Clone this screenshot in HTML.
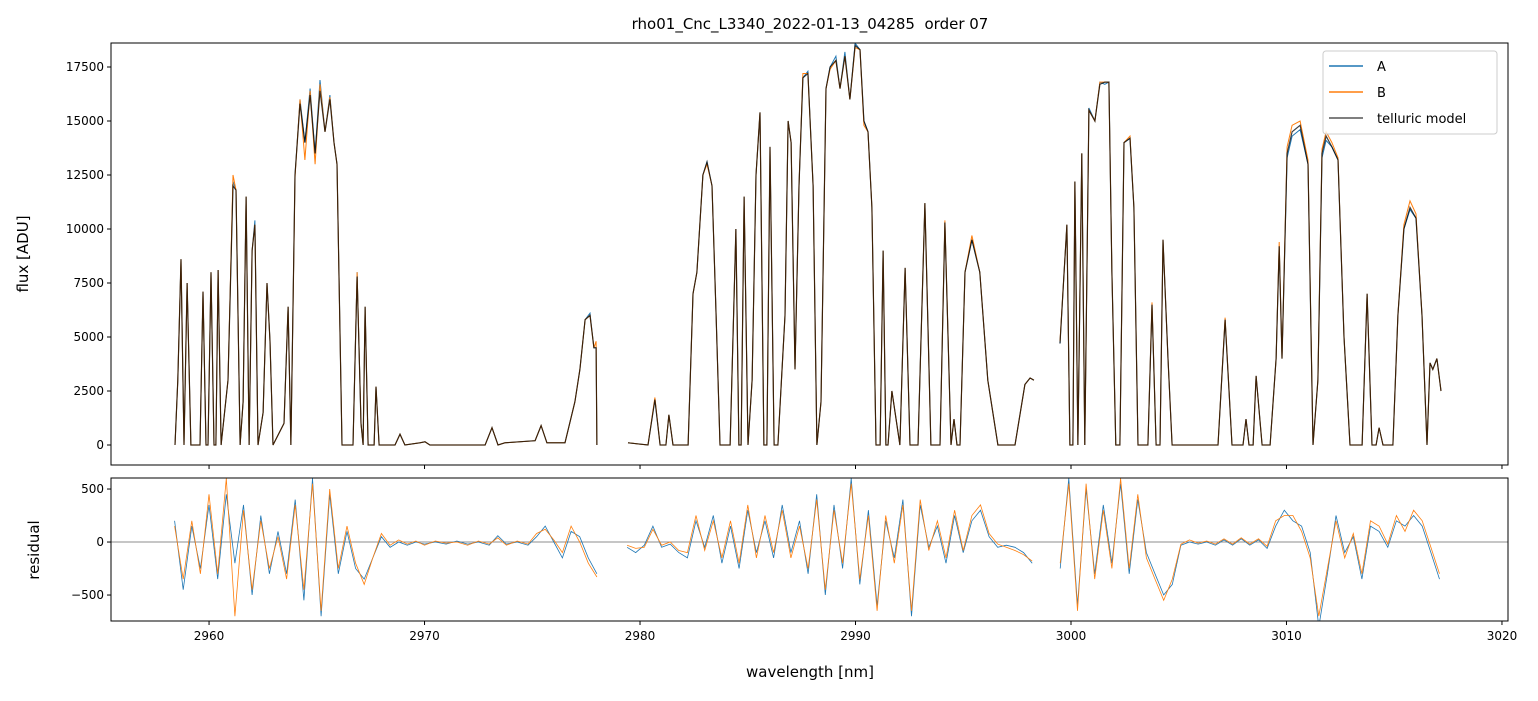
<!DOCTYPE html>
<html><head><meta charset="utf-8">
<style>
body{margin:0;background:#fff;}
svg text{font-family:"DejaVu Sans","Liberation Sans",sans-serif;fill:#000;}
</style></head>
<body>
<svg id="chart" width="1538" height="696" xmlns="http://www.w3.org/2000/svg">
<rect width="1538" height="696" fill="#fff"/>
<text x="810" y="29" font-size="15" text-anchor="middle" style="white-space:pre">rho01_Cnc_L3340_2022-01-13_04285  order 07</text>
<text transform="translate(28,254) rotate(-90)" font-size="15" text-anchor="middle">flux [ADU]</text>
<text transform="translate(39,550) rotate(-90)" font-size="15" text-anchor="middle">residual</text>
<text x="810" y="677" font-size="15" text-anchor="middle">wavelength [nm]</text>
<g id="topPanel"></g>
<g id="botPanel"></g>
<g>
<rect x="1323" y="51" width="174" height="83" rx="3" fill="#fff" fill-opacity="0.8" stroke="#ccc"/>
<line x1="1329" y1="66" x2="1363" y2="66" stroke="#1f77b4" stroke-width="1.5"/>
<text x="1377" y="71" font-size="13">A</text>
<line x1="1329" y1="92" x2="1363" y2="92" stroke="#ff7f0e" stroke-width="1.5"/>
<text x="1377" y="97" font-size="13">B</text>
<line x1="1329" y1="118" x2="1363" y2="118" stroke="#555" stroke-width="1.5"/>
<text x="1377" y="123" font-size="13">telluric model</text>
</g>
</svg>
<script>
const wl=[2958.42,2958.55,2958.70,2958.84,2958.98,2959.16,2959.58,2959.72,2959.86,2959.95,2960.09,2960.23,2960.32,2960.42,2960.56,2960.88,2961.11,2961.25,2961.44,2961.58,2961.72,2961.86,2962.0,2962.13,2962.27,2962.51,2962.69,2962.83,2962.97,2963.48,2963.67,2963.80,2963.99,2964.22,2964.45,2964.69,2964.92,2965.15,2965.38,2965.61,2965.80,2965.94,2966.17,2966.68,2966.87,2967.05,2967.15,2967.24,2967.38,2967.66,2967.75,2967.89,2968.63,2968.86,2969.09,2969.79,2970.02,2970.25,2972.81,2973.13,2973.41,2973.73,2975.13,2975.41,2975.68,2976.52,2976.98,2977.21,2977.45,2977.68,2977.86,2977.96,2978.0,null,
2979.44,2980.37,2980.69,2980.93,2981.20,2981.34,2981.53,2982.23,2982.46,2982.64,2982.92,2983.11,2983.34,2983.53,2983.71,2984.18,2984.45,2984.59,2984.69,2984.83,2985.01,2985.20,2985.38,2985.57,2985.75,2985.89,2986.03,2986.22,2986.40,2986.73,2986.87,2987.01,2987.19,2987.38,2987.56,2987.79,2988.03,2988.21,2988.40,2988.63,2988.82,2989.09,2989.28,2989.51,2989.74,2989.98,2990.21,2990.39,2990.58,2990.76,2990.95,2991.14,2991.28,2991.41,2991.51,2991.69,2992.06,2992.30,2992.53,2992.90,2993.22,2993.50,2993.92,2994.15,2994.43,2994.57,2994.71,2994.85,2995.08,2995.40,2995.77,2996.14,2996.61,2996.94,2997.40,2997.86,2998.10,2998.28,null,
2999.49,2999.68,2999.81,2999.95,3000.09,3000.18,3000.32,3000.50,3000.64,3000.83,3001.11,3001.34,3001.57,3001.76,3001.90,3002.08,3002.27,3002.46,3002.74,3002.92,3003.11,3003.57,3003.76,3003.95,3004.13,3004.27,3004.50,3004.69,3006.82,3007.15,3007.47,3007.98,3008.12,3008.26,3008.45,3008.59,3008.87,3009.24,3009.52,3009.66,3009.79,3010.03,3010.26,3010.63,3011.00,3011.23,3011.46,3011.65,3011.84,3012.11,3012.39,3012.67,3012.95,3013.51,3013.74,3013.97,3014.16,3014.30,3014.48,3014.94,3015.17,3015.45,3015.73,3016.01,3016.29,3016.52,3016.66,3016.79,3016.98,3017.17];
const model=[0,3000,8600,0,7500,0,0,7100,0,0,8000,0,0,8100,0,3000,12000,11800,0,2000,11500,0,9000,10200,0,1500,7500,4800,0,1000,6400,0,12500,15800,14000,16200,13500,16400,14500,16000,14000,13000,0,0,7800,1000,0,6400,0,0,2700,0,0,500,0,100,150,0,0,800,0,100,200,900,100,100,2000,3500,5800,6000,4500,4500,0,null,
100,0,2100,0,0,1400,0,0,7000,8000,12500,13100,12000,6000,0,0,10000,0,0,11500,0,3000,12500,15400,0,0,13800,0,0,6000,15000,14000,3500,12000,17000,17200,12000,0,2000,16500,17500,17800,16500,18000,16000,18500,18300,15000,14500,11000,0,0,9000,0,0,2500,0,8200,0,0,11200,0,0,10300,0,1200,0,0,8000,9500,8000,3000,0,0,0,2800,3100,3000,null,
4700,8000,10200,0,0,12200,0,13500,0,15500,15000,16700,16800,16800,8000,0,0,14000,14200,11000,0,0,6500,0,0,9500,4000,0,0,5800,0,0,1200,0,0,3200,0,0,4000,9200,4000,13500,14500,14800,13000,0,3000,13500,14300,13800,13200,5000,0,0,7000,0,0,800,0,0,6000,10000,11000,10500,6000,0,3800,3500,4000,2500];
const fluxA=[0,3000,8600,0,7500,0,0,7100,0,0,8000,0,0,8100,0,3000,12200,11800,0,2000,11500,0,9000,10400,0,1500,7500,4800,0,1000,6400,0,12500,16000,14000,16500,13500,16900,14500,16200,14000,13000,0,0,8000,1000,0,6400,0,0,2700,0,0,500,0,100,150,0,0,800,0,100,200,900,100,100,2000,3500,5800,6100,4500,4500,0,null,
100,0,2100,0,0,1400,0,0,7000,8000,12500,13100,12000,6000,0,0,10000,0,0,11500,0,3000,12500,15400,0,0,13800,0,0,6000,15000,14000,3500,12000,17000,17300,12000,0,2000,16500,17500,18000,16500,18200,16000,18600,18300,15000,14500,11000,0,0,9000,0,0,2500,0,8200,0,0,11200,0,0,10300,0,1200,0,0,8000,9500,8000,3000,0,0,0,2800,3100,3000,null,
4700,8000,10200,0,0,12200,0,13500,0,15600,15000,16800,16700,16800,8000,0,0,14000,14200,11000,0,0,6500,0,0,9500,4000,0,0,5800,0,0,1200,0,0,3200,0,0,4000,9200,4000,13300,14300,14600,13000,0,3000,13300,14100,13800,13200,5000,0,0,7000,0,0,800,0,0,6000,10000,10900,10500,6000,0,3800,3500,4000,2500];
const fluxB=[0,3000,8600,0,7500,0,0,7100,0,0,8000,0,0,8100,0,3000,12500,11800,0,2000,11500,0,9000,10200,0,1500,7500,4800,0,1000,6400,0,12400,16000,13200,16400,13000,16700,14500,16100,14000,13000,0,0,8000,1000,0,6400,0,0,2700,0,0,500,0,100,150,0,0,800,0,100,200,900,100,100,2000,3500,5800,6000,4500,4800,0,null,
100,0,2200,0,0,1400,0,0,7000,8000,12500,13000,12000,6000,0,0,10000,0,0,11500,0,3000,12500,15400,0,0,13800,0,0,6000,15000,14000,3500,12000,17200,17200,12000,0,2000,16500,17400,17800,16500,18000,16000,18400,18300,14800,14500,11000,0,0,9000,0,0,2500,0,8200,0,0,11200,0,0,10400,0,1200,0,0,8000,9700,8000,3000,0,0,0,2800,3100,3000,null,
4800,8000,10200,0,0,12200,0,13500,0,15500,15000,16800,16800,16800,8000,0,0,14000,14300,11000,0,0,6600,0,0,9500,4000,0,0,5900,0,0,1200,0,0,3200,0,0,4000,9400,4000,13800,14800,15000,13200,0,3000,13700,14500,14000,13300,5000,0,0,7000,0,0,800,0,0,6000,10200,11300,10700,6000,0,3800,3500,4000,2500];
const resWl=[2958.4,2958.8,2959.2,2959.6,2960.0,2960.4,2960.8,2961.2,2961.6,2962.0,2962.4,2962.8,2963.2,2963.6,2964.0,2964.4,2964.8,2965.2,2965.6,2966.0,2966.4,2966.8,2967.2,2967.6,2968.0,2968.4,2968.8,2969.2,2969.6,2970.0,2970.5,2971.0,2971.5,2972.0,2972.5,2973.0,2973.4,2973.8,2974.3,2974.8,2975.2,2975.6,2976.0,2976.4,2976.8,2977.2,2977.6,2978.0,null,
2979.4,2979.8,2980.2,2980.6,2981.0,2981.4,2981.8,2982.2,2982.6,2983.0,2983.4,2983.8,2984.2,2984.6,2985.0,2985.4,2985.8,2986.2,2986.6,2987.0,2987.4,2987.8,2988.2,2988.6,2989.0,2989.4,2989.8,2990.2,2990.6,2991.0,2991.4,2991.8,2992.2,2992.6,2993.0,2993.4,2993.8,2994.2,2994.6,2995.0,2995.4,2995.8,2996.2,2996.6,2997.0,2997.4,2997.8,2998.2,null,
2999.5,2999.9,3000.3,3000.7,3001.1,3001.5,3001.9,3002.3,3002.7,3003.1,3003.5,3003.9,3004.3,3004.7,3005.1,3005.5,3005.9,3006.3,3006.7,3007.1,3007.5,3007.9,3008.3,3008.7,3009.1,3009.5,3009.9,3010.3,3010.7,3011.1,3011.5,3011.9,3012.3,3012.7,3013.1,3013.5,3013.9,3014.3,3014.7,3015.1,3015.5,3015.9,3016.3,3016.7,3017.1];
const resA=[200,-450,150,-250,350,-350,450,-200,350,-500,250,-300,100,-300,400,-550,600,-700,450,-300,100,-250,-350,-150,50,-50,0,-30,0,-20,0,-20,10,-20,0,-30,60,-20,0,-30,50,150,0,-150,100,50,-150,-300,null,
-50,-100,-30,150,-50,-20,-100,-150,200,-50,250,-200,150,-250,300,-100,200,-150,350,-100,200,-300,450,-500,350,-250,600,-400,300,-600,200,-150,400,-700,350,-50,150,-200,250,-100,200,300,50,-50,-30,-50,-100,-200,null,
-250,600,-600,500,-300,350,-200,550,-300,400,-100,-300,-500,-400,-30,0,-20,0,-30,20,-30,30,-30,20,-60,150,300,200,150,-100,-800,-300,250,-100,50,-350,150,100,-50,200,150,250,150,-100,-350];
const resB=[150,-350,200,-300,450,-300,600,-700,300,-450,200,-250,50,-350,350,-450,550,-650,500,-250,150,-200,-400,-150,80,-30,20,-20,10,-30,10,-10,0,-30,10,-20,40,-30,10,-20,80,120,20,-100,150,0,-200,-330,null,
-30,-60,-50,120,-30,0,-80,-100,250,-80,200,-150,200,-200,350,-150,250,-100,300,-150,150,-250,400,-450,300,-200,550,-350,250,-650,250,-200,350,-650,400,-80,200,-150,300,-80,250,350,80,-20,-50,-80,-120,-180,null,
-200,550,-650,550,-350,300,-250,600,-250,450,-150,-350,-550,-350,-20,20,-10,10,-20,30,-20,40,-20,30,-40,200,250,250,100,-150,-700,-250,200,-150,80,-300,200,150,-20,250,100,300,200,-50,-300];
const xTicks=[2960,2970,2980,2990,3000,3010,3020];
const yTicks=[0,2500,5000,7500,10000,12500,15000,17500];
const rTicks=[-500,0,500];

const NS="http://www.w3.org/2000/svg";
const L=111,R=1508,T1=43,B1=465,T2=478,B2=621;
const x=w=>L+(w-2955.45)/(3020.28-2955.45)*(R-L);
const y1=v=>B1-(v-(-926))/(18611-(-926))*(B1-T1);
const y2=v=>B2-(v-(-745))/(604-(-745))*(B2-T2);
function mk(tag,attrs,parent){const e=document.createElementNS(NS,tag);for(const k in attrs)e.setAttribute(k,attrs[k]);parent.appendChild(e);return e;}
function pathD(xs,ys,fy){let d="",pen=false;for(let i=0;i<xs.length;i++){if(xs[i]===null||ys[i]===null){pen=false;continue;}d+=(pen?"L":"M")+x(xs[i]).toFixed(1)+","+fy(ys[i]).toFixed(1);pen=true;}return d;}
const topG=document.getElementById('topPanel'),botG=document.getElementById('botPanel');
const cp=mk('clipPath',{id:'c1'},topG);mk('rect',{x:L,y:T1,width:R-L,height:B1-T1},cp);
const cp2=mk('clipPath',{id:'c2'},botG);mk('rect',{x:L,y:T2,width:R-L,height:B2-T2},cp2);
const g1=mk('g',{'clip-path':'url(#c1)'},topG);
let p=mk('path',{d:pathD(wl,fluxA,y1),fill:'none',stroke:'#1f77b4','stroke-width':1},g1);


p=mk('path',{d:pathD(wl,fluxB,y1),fill:'none',stroke:'#ff7f0e','stroke-width':1},g1);


p=mk('path',{d:pathD(wl,model,y1),fill:'none',stroke:'#000','stroke-opacity':0.75,'stroke-width':1.2},g1);


const g2=mk('g',{'clip-path':'url(#c2)'},botG);
p=mk('line',{x1:L,x2:R,y1:y2(0),y2:y2(0),stroke:'#666','stroke-width':0.7},g2);


p=mk('path',{d:pathD(resWl,resA,y2),fill:'none',stroke:'#1f77b4','stroke-width':0.8},g2);


p=mk('path',{d:pathD(resWl,resB,y2),fill:'none',stroke:'#ff7f0e','stroke-width':0.8},g2);


for(const [t,b] of [[T1,B1],[T2,B2]]){
  const f=mk('rect',{x:L,y:t,width:R-L,height:b-t,fill:'none',stroke:'#000','stroke-width':1},t===T1?topG:botG);
  
  
}
for(const v of xTicks){
  const xx=x(v);
  mk('line',{x1:xx,x2:xx,y1:B1,y2:B1+4,stroke:'#000'},topG);
  mk('line',{x1:xx,x2:xx,y1:B2,y2:B2+4,stroke:'#000'},botG);
  const t=mk('text',{x:xx,y:B2+19,'font-size':12,'text-anchor':'middle'},botG);t.textContent=v;
  
  
}
for(const v of yTicks){
  const yy=y1(v);
  mk('line',{x1:L-4,x2:L,y1:yy,y2:yy,stroke:'#000'},topG);
  const t=mk('text',{x:L-7,y:yy+4,'font-size':12,'text-anchor':'end'},topG);t.textContent=v;
  
  
}
for(const v of rTicks){
  const yy=y2(v);
  mk('line',{x1:L-4,x2:L,y1:yy,y2:yy,stroke:'#000'},botG);
  const t=mk('text',{x:L-7,y:yy+4,'font-size':12,'text-anchor':'end'},botG);t.textContent=v<0?'\u2212'+(-v):v;
  
  
}
</script>
</body></html>
